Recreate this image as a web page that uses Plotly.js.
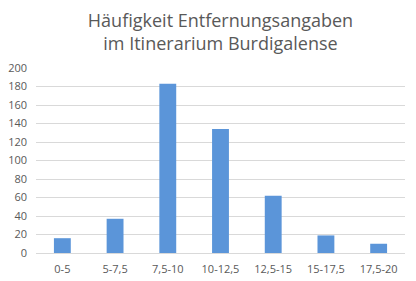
<!DOCTYPE html>
<html><head><meta charset="utf-8">
<script src="https://cdn.plot.ly/plotly-3.0.1.min.js"></script>
<style>html,body{margin:0;padding:0;background:#fff;}#chart{width:416px;height:281px;}</style>
</head><body><div id="chart"></div>
<script>
const categories = ["0-5","5-7,5","7,5-10","10-12,5","12,5-15","15-17,5","17,5-20"];
const counts = [16, 37, 183, 134, 62, 19, 10];
const yTicks = [0,20,40,60,80,100,120,140,160,180,200];

const trace = {
  type: 'bar', x: categories, y: counts,
  marker: {color: '#5b95d9'},
  hoverinfo: 'none'
};
const layout = {
  width: 416, height: 281,
  margin: {l: 36, r: 11, t: 68, b: 28},
  paper_bgcolor: '#fff', plot_bgcolor: '#fff',
  bargap: 0.68,
  showlegend: false,
  font: {family: 'Open Sans, sans-serif', color: '#595959', size: 11},
  title: {text: 'Häufigkeit Entfernungsangaben<br>im Itinerarium Burdigalense',
    font: {family: 'Open Sans, sans-serif', size: 18, color: '#595959'},
    x: 0.5, xanchor: 'center', xref: 'paper', yref: 'container', y: 0.904, yanchor: 'middle'},
  xaxis: {type: 'category', showgrid: false, zeroline: false, showline: true,
    linecolor: '#d9d9d9', linewidth: 1, ticks: '', ticklabelstandoff: 6,
    tickfont: {size: 11, color: '#595959'}},
  yaxis: {range: [0, 200], tickvals: yTicks, showgrid: true, gridcolor: '#d9d9d9',
    zeroline: false, showline: false, ticks: '', ticklen: 0, ticklabelstandoff: 8,
    tickfont: {size: 11, color: '#595959'}}
};
Plotly.newPlot('chart', [trace], layout, {displayModeBar: false, staticPlot: true});
</script></body></html>
